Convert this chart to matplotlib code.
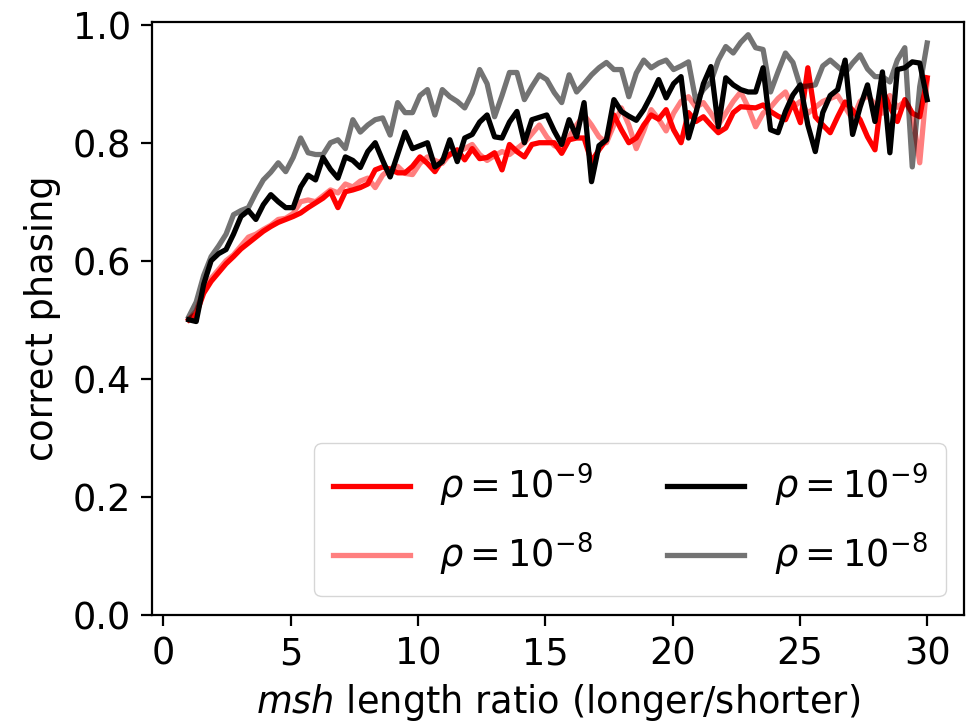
import numpy as np
import matplotlib
matplotlib.use("Agg")
import matplotlib.pyplot as plt

x = np.linspace(1, 30, 100)

red_rho9 = [0.50, 0.51, 0.545, 0.565, 0.58, 0.595, 0.607, 0.62, 0.63, 0.64,
            0.65, 0.658, 0.665, 0.67, 0.675, 0.681, 0.69, 0.698, 0.706, 0.717,
            0.69, 0.717, 0.72, 0.724, 0.73, 0.754, 0.759, 0.755, 0.749, 0.749,
            0.76, 0.776, 0.765, 0.751, 0.771, 0.78, 0.788, 0.771, 0.79, 0.773,
            0.775, 0.783, 0.754, 0.797, 0.785, 0.776, 0.797, 0.80, 0.80, 0.80,
            0.782, 0.805, 0.808, 0.808, 0.768, 0.788, 0.805, 0.847, 0.822, 0.80,
            0.808, 0.83, 0.847, 0.84, 0.856, 0.822, 0.80, 0.851, 0.836, 0.844,
            0.83, 0.817, 0.825, 0.851, 0.861, 0.86, 0.859, 0.864, 0.853, 0.845,
            0.839, 0.868, 0.834, 0.927, 0.844, 0.83, 0.817, 0.844, 0.869, 0.855,
            0.839, 0.81, 0.788, 0.89, 0.861, 0.836, 0.873, 0.85, 0.844, 0.91]

red_rho8 = [0.50, 0.515, 0.55, 0.57, 0.585, 0.60, 0.61, 0.625, 0.64, 0.645,
            0.653, 0.66, 0.67, 0.672, 0.68, 0.70, 0.703, 0.70, 0.71, 0.72,
            0.715, 0.73, 0.725, 0.735, 0.74, 0.724, 0.745, 0.756, 0.76, 0.748,
            0.746, 0.765, 0.776, 0.77, 0.765, 0.78, 0.785, 0.79, 0.797, 0.78,
            0.77, 0.778, 0.785, 0.78, 0.79, 0.80, 0.815, 0.83, 0.81, 0.795,
            0.79, 0.81, 0.83, 0.847, 0.83, 0.81, 0.80, 0.83, 0.859, 0.83,
            0.79, 0.82, 0.856, 0.84, 0.82, 0.85, 0.87, 0.878, 0.86, 0.868,
            0.85, 0.83, 0.85, 0.87, 0.886, 0.86, 0.827, 0.85, 0.86, 0.875,
            0.886, 0.86, 0.87, 0.85, 0.86, 0.87, 0.875, 0.88, 0.86, 0.84,
            0.87, 0.88, 0.865, 0.85, 0.88, 0.86, 0.87, 0.85, 0.766, 0.905]

black_rho9 = [0.50, 0.497, 0.56, 0.60, 0.612, 0.619, 0.645, 0.675, 0.685, 0.67,
              0.695, 0.712, 0.70, 0.69, 0.69, 0.725, 0.745, 0.737, 0.775, 0.755,
              0.74, 0.776, 0.77, 0.758, 0.785, 0.80, 0.77, 0.742, 0.78, 0.818,
              0.79, 0.795, 0.80, 0.759, 0.768, 0.805, 0.768, 0.808, 0.814, 0.835,
              0.847, 0.81, 0.808, 0.835, 0.853, 0.80, 0.839, 0.843, 0.847, 0.82,
              0.797, 0.839, 0.81, 0.868, 0.734, 0.795, 0.805, 0.873, 0.853, 0.845,
              0.838, 0.856, 0.88, 0.907, 0.876, 0.90, 0.912, 0.808, 0.851, 0.90,
              0.929, 0.827, 0.91, 0.898, 0.89, 0.886, 0.886, 0.927, 0.822, 0.817,
              0.853, 0.881, 0.898, 0.83, 0.785, 0.851, 0.88, 0.89, 0.94, 0.814,
              0.86, 0.898, 0.836, 0.92, 0.783, 0.924, 0.927, 0.937, 0.935, 0.873]

black_rho8 = [0.505, 0.53, 0.575, 0.607, 0.625, 0.645, 0.678, 0.685, 0.69, 0.715,
              0.737, 0.75, 0.766, 0.751, 0.775, 0.808, 0.783, 0.78, 0.78, 0.80,
              0.805, 0.79, 0.839, 0.818, 0.83, 0.839, 0.842, 0.813, 0.868, 0.851,
              0.851, 0.88, 0.89, 0.847, 0.89, 0.878, 0.87, 0.859, 0.884, 0.924,
              0.90, 0.844, 0.88, 0.919, 0.919, 0.873, 0.895, 0.915, 0.907, 0.885,
              0.868, 0.915, 0.886, 0.90, 0.915, 0.927, 0.936, 0.924, 0.924, 0.878,
              0.918, 0.94, 0.927, 0.935, 0.94, 0.924, 0.93, 0.937, 0.87, 0.89,
              0.903, 0.94, 0.963, 0.952, 0.97, 0.983, 0.961, 0.958, 0.886, 0.92,
              0.952, 0.936, 0.895, 0.896, 0.898, 0.93, 0.94, 0.929, 0.918, 0.935,
              0.949, 0.925, 0.912, 0.912, 0.903, 0.94, 0.961, 0.759, 0.895, 0.969]

labels = [r"$\rho = 10^{-9}$", r"$\rho = 10^{-8}$", r"$\rho = 10^{-9}$", r"$\rho = 10^{-8}$"]
xticks = [0, 5, 10, 15, 20, 25, 30]
yticks = [0.0, 0.2, 0.4, 0.6, 0.8, 1.0]

plt.rcParams['font.family'] = ['DejaVu Sans']
plt.rcParams['mathtext.fontset'] = 'dejavusans'

FS = 26.5
fig = plt.figure(figsize=(9.67, 7.25), dpi=100)
ax = fig.add_axes([0.157, 0.152, 0.84, 0.818])

lw = 3.8
ax.plot(x, red_rho9, color='red', lw=lw, label=labels[0])
ax.plot(x, red_rho8, color='red', alpha=0.5, lw=lw, label=labels[1])
ax.plot(x, black_rho9, color='black', lw=lw, label=labels[2])
ax.plot(x, black_rho8, color='black', alpha=0.55, lw=lw, label=labels[3])

ax.set_xlim(-0.45, 31.45)
ax.set_ylim(0, 1.005)
ax.set_xticks(xticks)
ax.set_yticks(yticks)
ax.set_yticklabels([f"{v:.1f}" for v in yticks])
ax.tick_params(labelsize=FS, length=8, width=1.6, pad=7)
for s in ax.spines.values():
    s.set_linewidth(1.6)

ax.set_ylabel("correct phasing", fontsize=FS, labelpad=8)
ax.set_xlabel(r"$\it{msh}$ length ratio (longer/shorter)", fontsize=FS, labelpad=7)

ax.legend(loc='lower right', ncol=2, fontsize=FS, handlelength=2.1,
          borderpad=0.5, labelspacing=0.6)

fig.savefig("out.png", dpi=100)
